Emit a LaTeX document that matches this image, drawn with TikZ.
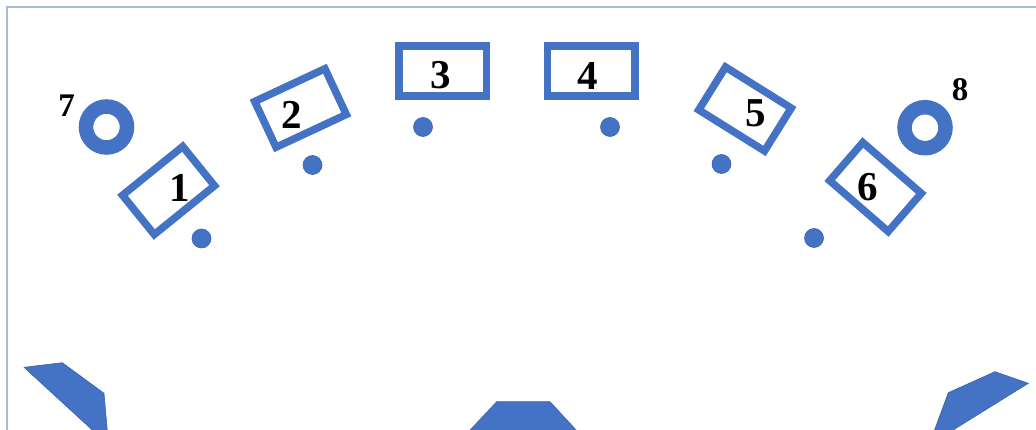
\documentclass[tikz,border=0pt]{standalone}
\usepackage{fontspec}
\setmainfont{Liberation Serif}
\definecolor{ablue}{HTML}{4472C4}
\definecolor{aline}{HTML}{3A62AE}
\definecolor{framec}{HTML}{A8BBD6}
\begin{document}
\begin{tikzpicture}[x=1pt,y=-1pt,
  box/.style={draw=ablue, line width=7.5pt, minimum width=77.5pt, minimum height=50.5pt, inner sep=0pt},
  widebox/.style={box, minimum width=87.5pt, minimum height=50pt},
  dot/.style={circle, fill=ablue, draw=aline, line width=0.6pt, minimum size=19pt, inner sep=0pt},
  ring/.style={circle, draw=ablue, line width=14.5pt, minimum size=41pt, inner sep=0pt},
  num/.style={font=\bfseries\fontsize{41}{41}\selectfont, inner sep=0pt},
  smallnum/.style={font=\bfseries\fontsize{33}{33}\selectfont, inner sep=0pt},
  seat/.style={fill=ablue, draw=aline, line width=0.6pt}]
\useasboundingbox (0,0) rectangle (1036,430);
\clip (0,0) rectangle (1036,430);
% frame
\draw[framec, line width=2pt] (7,440) -- (7,7) -- (1040,7);
% boxes
\node[box, rotate=39] (b1) at (168.5,190.5) {};
\node[box, rotate=25] (b2) at (300.5,108) {};
\node[widebox] (b3) at (442.5,70.8) {};
\node[widebox] (b4) at (591,70.8) {};
\node[box, rotate=-32] (b5) at (745,109) {};
\node[box, rotate=-41] (b6) at (875.5,187) {};
% labels
\node[num] (n1) at (180,188) {1};
\node[num] (n2) at (292,115) {2};
\node[num] (n3) at (441,74.7) {3};
\node[num] (n4) at (588,76) {4};
\node[num] (n5) at (756,113) {5};
\node[num] (n6) at (868,187) {6};
\node[smallnum] (n7) at (66.7,106) {7};
\node[smallnum] (n8) at (960,90) {8};
% dots
\node[dot] (d1) at (201.5,238.5) {};
\node[dot] (d2) at (312.5,165) {};
\node[dot] (d3) at (423,127) {};
\node[dot] (d4) at (610,127) {};
\node[dot] (d5) at (721.5,164) {};
\node[dot] (d6) at (814,238) {};
% rings
\node[ring] (r7) at (106.5,127) {};
\node[ring] (r8) at (925,127.7) {};
% bottom shapes
\filldraw[seat] (24,367.3) -- (62.3,362.7) -- (104,393.3) -- (108.6,445) -- cycle;
\filldraw[seat] (496.7,401.7) -- (550,401.7) -- (590,445) -- (456,445) -- cycle;
\filldraw[seat] (929,445) -- (948.3,392.7) -- (995,371.7) -- (1028.3,383.3) -- cycle;
\end{tikzpicture}
\end{document}
